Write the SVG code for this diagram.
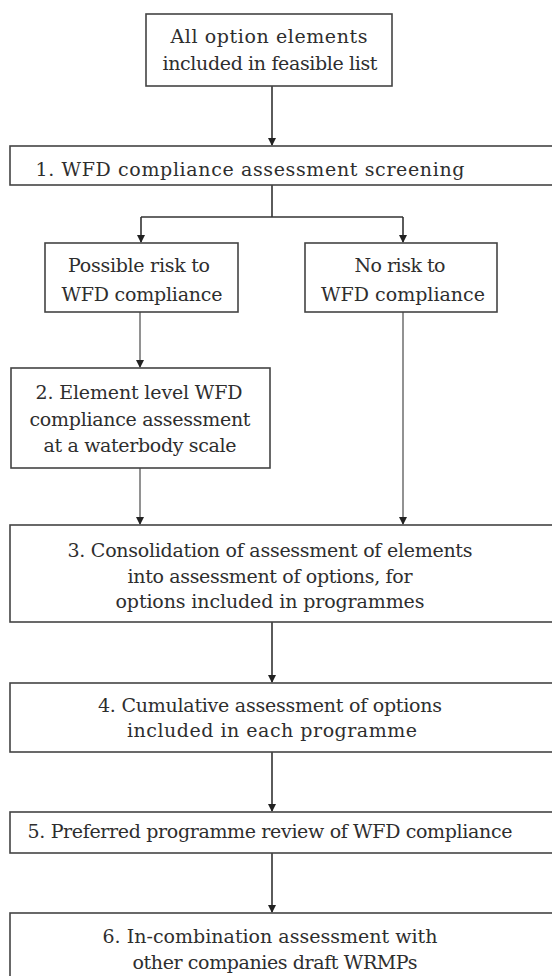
<svg xmlns="http://www.w3.org/2000/svg" width="552" height="976" viewBox="0 0 552 976">
<defs>
<marker id="ah" markerWidth="8" markerHeight="8" refX="7" refY="4" orient="auto" markerUnits="userSpaceOnUse">
<path d="M0,0 L8,4 L0,8 Z" fill="#222"/>
</marker>
<style>
.box{fill:#fff;stroke:#444;stroke-width:1.6}
.t{font-family:"DejaVu Serif","Liberation Serif",serif;font-size:19px;fill:#2e2e2e;text-anchor:middle}
.c{fill:none;stroke:#333;stroke-width:1.6}
.g{fill:none;stroke:#777;stroke-width:1.6}
</style>
</defs>
<rect width="552" height="976" fill="#fff"/>
<g id="connectors">
<path class="c" d="M272,86 V145" marker-end="url(#ah)"/>
<path class="c" d="M272,185 V217"/>
<path class="c" d="M141,217 H403"/>
<path class="c" d="M141,217 V242" marker-end="url(#ah)"/>
<path class="c" d="M403,217 V242" marker-end="url(#ah)"/>
<path class="g" d="M140,312 V367" marker-end="url(#ah)"/>
<path class="g" d="M140,468 V524" marker-end="url(#ah)"/>
<path class="g" d="M403,312 V524" marker-end="url(#ah)"/>
<path class="c" d="M272,622 V682" marker-end="url(#ah)"/>
<path class="c" d="M272,752 V811" marker-end="url(#ah)"/>
<path class="c" d="M272,853 V912" marker-end="url(#ah)"/>
</g>
<g id="n0">
<rect class="box" x="146" y="14" width="246" height="72"/>
<text class="t" x="269" y="43" textLength="197">All option elements</text>
<text class="t" x="270" y="70" textLength="215">included in feasible list</text>
</g>
<g id="n1">
<rect class="box" x="10" y="146" width="560" height="39"/>
<text class="t" x="250" y="176" textLength="429">1. WFD compliance assessment screening</text>
</g>
<g id="n2">
<rect class="box" x="45" y="243" width="193" height="69"/>
<text class="t" x="139" y="272" textLength="142">Possible risk to</text>
<text class="t" x="142" y="301" textLength="161">WFD compliance</text>
</g>
<g id="n3">
<rect class="box" x="305" y="243" width="192" height="69"/>
<text class="t" x="400" y="272" textLength="91">No risk to</text>
<text class="t" x="403" y="301" textLength="164">WFD compliance</text>
</g>
<g id="n4">
<rect class="box" x="11" y="368" width="259" height="100"/>
<text class="t" x="139" y="399" textLength="207">2. Element level WFD</text>
<text class="t" x="140" y="426" textLength="221">compliance assessment</text>
<text class="t" x="140" y="452" textLength="193">at a waterbody scale</text>
</g>
<g id="n5">
<rect class="box" x="10" y="525" width="560" height="97"/>
<text class="t" x="270" y="557" textLength="405">3. Consolidation of assessment of elements</text>
<text class="t" x="270" y="583" textLength="285">into assessment of options, for</text>
<text class="t" x="270" y="608" textLength="309">options included in programmes</text>
</g>
<g id="n6">
<rect class="box" x="10" y="683" width="560" height="69"/>
<text class="t" x="270" y="712" textLength="344">4. Cumulative assessment of options</text>
<text class="t" x="272" y="737" textLength="290">included in each programme</text>
</g>
<g id="n7">
<rect class="box" x="10" y="812" width="560" height="41"/>
<text class="t" x="270" y="838" textLength="485">5. Preferred programme review of WFD compliance</text>
</g>
<g id="n8">
<rect class="box" x="10" y="913" width="560" height="80"/>
<text class="t" x="270" y="943" textLength="335">6. In-combination assessment with</text>
<text class="t" x="275" y="969" textLength="285">other companies draft WRMPs</text>
</g>
</svg>
